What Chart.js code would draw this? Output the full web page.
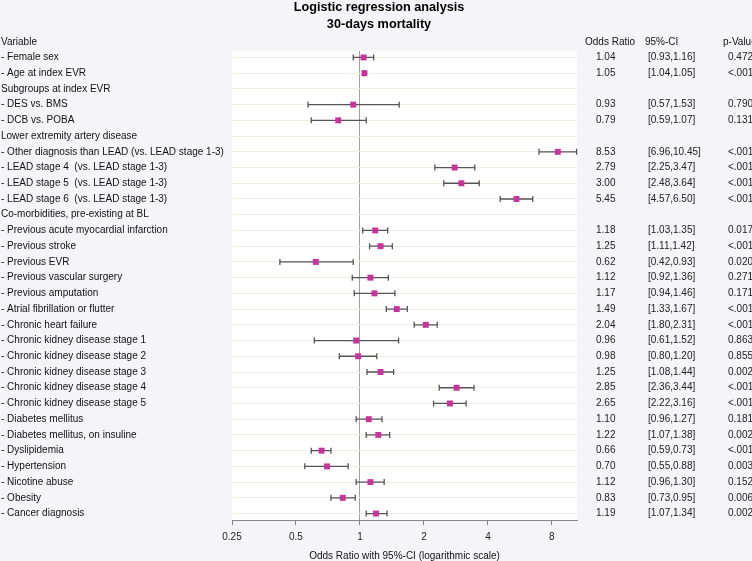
<!DOCTYPE html>
<html>
<head>
<meta charset="utf-8">
<script src="https://cdn.jsdelivr.net/npm/chart.js@4.4.1/dist/chart.umd.min.js"></script>
<style>
  html, body { margin: 0; padding: 0; background: #f5f5f9; }
  #wrap { width: 752px; height: 561px; position: relative; }
</style>
</head>
<body>
<div id="wrap"><canvas id="c" width="752" height="561"></canvas></div>
<script>
const rowLabels = [
  "- Female sex",
  "- Age at index EVR",
  "Subgroups at index EVR",
  "- DES vs. BMS",
  "- DCB vs. POBA",
  "Lower extremity artery disease",
  "- Other diagnosis than LEAD (vs. LEAD stage 1-3)",
  "- LEAD stage 4  (vs. LEAD stage 1-3)",
  "- LEAD stage 5  (vs. LEAD stage 1-3)",
  "- LEAD stage 6  (vs. LEAD stage 1-3)",
  "Co-morbidities, pre-existing at BL",
  "- Previous acute myocardial infarction",
  "- Previous stroke",
  "- Previous EVR",
  "- Previous vascular surgery",
  "- Previous amputation",
  "- Atrial fibrillation or flutter",
  "- Chronic heart failure",
  "- Chronic kidney disease stage 1",
  "- Chronic kidney disease stage 2",
  "- Chronic kidney disease stage 3",
  "- Chronic kidney disease stage 4",
  "- Chronic kidney disease stage 5",
  "- Diabetes mellitus",
  "- Diabetes mellitus, on insuline",
  "- Dyslipidemia",
  "- Hypertension",
  "- Nicotine abuse",
  "- Obesity",
  "- Cancer diagnosis"
];
const oddsRatio = [1.04, 1.05, null, 0.93, 0.79, null, 8.53, 2.79, 3.00, 5.45, null,
  1.18, 1.25, 0.62, 1.12, 1.17, 1.49, 2.04, 0.96, 0.98, 1.25, 2.85, 2.65,
  1.10, 1.22, 0.66, 0.70, 1.12, 0.83, 1.19];
const ciLower = [0.93, 1.04, null, 0.57, 0.59, null, 6.96, 2.25, 2.48, 4.57, null,
  1.03, 1.11, 0.42, 0.92, 0.94, 1.33, 1.80, 0.61, 0.80, 1.08, 2.36, 2.22,
  0.96, 1.07, 0.59, 0.55, 0.96, 0.73, 1.07];
const ciUpper = [1.16, 1.05, null, 1.53, 1.07, null, 10.45, 3.47, 3.64, 6.50, null,
  1.35, 1.42, 0.93, 1.36, 1.46, 1.67, 2.31, 1.52, 1.20, 1.44, 3.44, 3.16,
  1.27, 1.38, 0.73, 0.88, 1.30, 0.95, 1.34];
const pValues = ["0.472", "<.001", "", "0.790", "0.131", "", "<.001", "<.001", "<.001", "<.001", "",
  "0.017", "<.001", "0.020", "0.271", "0.171", "<.001", "<.001", "0.863", "0.855", "0.002", "<.001", "<.001",
  "0.181", "0.002", "<.001", "0.003", "0.152", "0.006", "0.002"];
const xTicks = [0.25, 0.5, 1, 2, 4, 8];
const xTickLabels = ["0.25", "0.5", "1", "2", "4", "8"];
const columnHeaders = ["Variable", "Odds Ratio", "95%-CI", "p-Value"];
const chartTitle = ["Logistic regression analysis", "30-days mortality"];
const xAxisTitle = "Odds Ratio with 95%-CI (logarithmic scale)";

const FONT = "'Liberation Sans', Arial, Helvetica, sans-serif";
Chart.defaults.font.family = FONT;
Chart.defaults.color = '#111';

const points = [];
oddsRatio.forEach((v, i) => { if (v !== null) points.push({ x: v, y: i }); });

const bgPlugin = {
  id: 'bg',
  beforeDraw(chart) {
    const { ctx, chartArea: a } = chart;
    ctx.save();
    ctx.fillStyle = '#ffffff';
    ctx.fillRect(a.left, a.top, a.right - a.left, a.bottom - a.top);
    ctx.restore();
  }
};

const errPlugin = {
  id: 'errbars',
  beforeDatasetsDraw(chart) {
    const { ctx, scales: { x, y } } = chart;
    ctx.save();
    ctx.strokeStyle = '#555555';
    ctx.lineWidth = 1.3;
    for (let i = 0; i < oddsRatio.length; i++) {
      if (oddsRatio[i] === null) continue;
      const x1 = x.getPixelForValue(ciLower[i]);
      const x2 = x.getPixelForValue(ciUpper[i]);
      const yy = y.getPixelForValue(i);
      ctx.beginPath();
      ctx.moveTo(x1, yy); ctx.lineTo(x2, yy);
      ctx.moveTo(x1, yy - 3); ctx.lineTo(x1, yy + 3);
      ctx.moveTo(x2, yy - 3); ctx.lineTo(x2, yy + 3);
      ctx.stroke();
    }
    ctx.restore();
  }
};

const tablePlugin = {
  id: 'table',
  afterDraw(chart) {
    const { ctx, scales: { y } } = chart;
    ctx.save();
    // title
    ctx.font = 'bold 12.7px ' + FONT;
    ctx.textAlign = 'center';
    ctx.textBaseline = 'middle';
    ctx.fillStyle = '#000';
    ctx.fillText(chartTitle[0], 379, 7.5);
    ctx.fillText(chartTitle[1], 379, 24.5);
    // headers
    ctx.font = '10px ' + FONT;
    ctx.textAlign = 'left';
    ctx.fillStyle = '#111';
    const hy = 42.5;
    ctx.fillText(columnHeaders[0], 1, hy);
    ctx.fillText(columnHeaders[1], 585, hy);
    ctx.fillText(columnHeaders[2], 645, hy);
    ctx.fillText(columnHeaders[3], 723, hy);
    ctx.fillStyle = '#222';
    for (let i = 0; i < oddsRatio.length; i++) {
      if (oddsRatio[i] === null) continue;
      const yy = y.getPixelForValue(i);
      ctx.fillText(oddsRatio[i].toFixed(2), 596, yy);
      ctx.fillText('[' + ciLower[i].toFixed(2) + ',' + ciUpper[i].toFixed(2) + ']', 648, yy);
      ctx.fillText(pValues[i], 728, yy);
    }
    ctx.restore();
  }
};

new Chart(document.getElementById('c'), {
  type: 'scatter',
  data: {
    datasets: [{
      data: points,
      backgroundColor: '#c8339c',
      borderColor: '#c8339c',
      borderWidth: 0,
      pointStyle: 'rect',
      pointRadius: 4.2,
      pointHoverRadius: 4.2
    }]
  },
  options: {
    responsive: false,
    animation: false,
    events: [],
    layout: { padding: { left: 1, right: 175, top: 51, bottom: 0 } },
    plugins: {
      legend: { display: false },
      tooltip: { enabled: false },
      title: { display: false }
    },
    scales: {
      x: {
        type: 'logarithmic',
        min: 0.25,
        max: 10.5,
        afterBuildTicks(scale) { scale.ticks = xTicks.map(v => ({ value: v })); },
        afterFit(scale) { scale.height = 41; },
        ticks: {
          autoSkip: false,
          maxRotation: 0,
          padding: 6,
          color: '#222',
          font: { size: 10 },
          callback(value) { const k = xTicks.indexOf(value); return k >= 0 ? xTickLabels[k] : ''; }
        },
        grid: {
          drawOnChartArea: true,
          color: (c) => (c.tick && c.tick.value === 1) ? '#a0a0a0' : 'rgba(0,0,0,0)',
          tickColor: '#888',
          tickLength: 5,
          lineWidth: 1
        },
        border: { display: true, color: '#888', width: 1 },
        title: {
          display: true,
          text: xAxisTitle,
          color: '#111',
          font: { size: 10, lineHeight: 1.0 },
          padding: { top: 0, bottom: 0 }
        }
      },
      y: {
        type: 'linear',
        reverse: true,
        min: -0.41,
        max: 29.41,
        afterBuildTicks(scale) { scale.ticks = rowLabels.map((_, i) => ({ value: i })); },
        afterFit(scale) { scale.width = 231; },
        ticks: {
          autoSkip: false,
          crossAlign: 'far',
          padding: 0,
          color: '#111',
          font: { size: 10 },
          callback(value) { return rowLabels[value]; }
        },
        grid: {
          color: '#efeedf',
          lineWidth: 1,
          drawTicks: false
        },
        border: { display: false }
      }
    }
  },
  plugins: [bgPlugin, errPlugin, tablePlugin]
});
</script>
</body>
</html>
